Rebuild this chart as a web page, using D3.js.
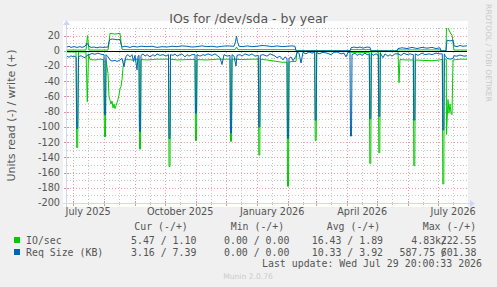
<!DOCTYPE html>
<html>
<head>
<meta charset="utf-8">
<script src="https://cdn.jsdelivr.net/npm/d3@7"></script>
<style>
body { margin: 0; background: #f0f0f0; }
svg { display: block; }
text { fill: #555; }
</style>
</head>
<body>
<script>
// graph window: 400 days ending at last update
const start = new Date(2025, 5, 24, 20, 0, 33)
const end = new Date(2026, 6, 29, 20, 0, 33)

// [day since start, value] ; reads are stored positive and drawn below zero
const ioWrite = [[0,1],[19,1],[20.5,20],[22,1],[41,1],[42,10],[43,23],[48,22],[53,23],[54,12],[55,2],[60,1.5],[100,1.5],[168,1.5],[169.5,5],[171,1.5],[229,1.5],[230,0],[283,0],[284,1.5],[303,1.5],[304,0],[330,0],[331,1.2],[373,1.2],[374,0],[379,0],[379.5,34],[384,22],[385,21],[387,1],[400,1]]
const ioRead = [[0,1.5],[9,1.5],[9.7,127],[10.7,127],[11.5,1.5],[19,1.5],[20.3,67],[21.5,4],[23,11.5],[28,12],[33,11],[36.5,11.5],[37.5,113],[38.5,113],[39,11.5],[41,30],[42,60],[43,65],[44,70],[45,66],[46,75],[47,70],[48,76],[49,72],[50,68],[51,64],[52,58],[53,50],[54,47],[55,38],[56,22],[57.5,12],[60,11.5],[66,12],[72,11.5],[72.5,129],[73.5,129],[74,11.5],[80,12],[90,11],[101.5,11],[102,152],[103,152],[103.5,11],[110,12],[120,11.5],[128,11.5],[128.5,118],[129.5,118],[130,11.5],[140,12],[150,11],[163,11],[163.5,119],[164.5,119],[165,11],[175,11.5],[185,11],[191.3,11],[191.8,137],[192.8,137],[193.3,11],[200,12],[210,14],[215,15],[220,15],[220.5,178],[221.5,178],[222,15],[225,14],[229,14],[230,1],[247.7,1],[248.2,118],[249.2,118],[249.7,1],[283,1],[284,2],[302.3,2],[302.8,148],[303.8,148],[304.3,1.5],[311.3,1],[311.8,134],[312.8,134],[313.3,1],[331,1],[332,42],[333,11.5],[340,12],[346.3,12],[346.8,151],[347.8,151],[348.3,12],[355,12.5],[365,13],[373,12],[375.3,11],[375.8,175],[376.8,175],[377.3,11],[379.3,11],[379.5,110],[381,64],[382,82],[383,70],[384,82],[385,84],[386,12],[393,11],[400,11]]
const reqWrite = [[0,5],[2,6],[4,4.5],[7,5.5],[10,4.5],[13,5.5],[15,4.5],[18,6],[20,10],[22,6],[24,4.5],[27,5],[30,4],[33,5],[36,4.5],[41,5],[42,12],[43,15],[46,15.5],[50,14.5],[53,15],[54,9],[55,5],[58,6],[60,5.5],[63,4.5],[66,6],[70,5],[74,6],[80,5.5],[85,6],[90,4.5],[95,5.5],[100,5],[105,6],[110,5.5],[115,6.5],[120,6],[125,5],[130,5.5],[135,6.5],[140,5.5],[145,6],[150,5],[155,6],[160,6.5],[167,6],[168.5,12],[169.5,19],[170.5,12],[172,6],[176,5.5],[180,6.5],[185,5.5],[190,6],[195,7],[200,6.5],[205,5.5],[210,6.5],[215,5.5],[220,6],[225,6.5],[228,6],[229,0],[283,0],[284,4],[287,5],[290,4],[293,5],[296,3.5],[300,5],[303,4.5],[304,0],[330,0],[331,3],[335,4],[340,3],[345,4.5],[350,3],[355,4.5],[360,3.5],[365,4.5],[369,3],[373,4],[374,0],[379,0],[380,14],[383,13],[386,14],[387,6.5],[390,5.5],[393,7],[396,6],[400,6.5]]
const reqRead = [[0,7],[2,8.5],[4,6.5],[6,8],[8,7],[9.2,9],[9.7,102],[10.7,102],[11.5,7.5],[14,6.5],[16,8],[18,9],[20,6],[22,5],[25,3.5],[28,4.5],[31,3],[34,4.5],[37,5],[37.5,84],[38.5,84],[39,5],[41,8],[43,12],[45,13.5],[48,12.5],[50,14],[53,12],[55,10],[57,21],[59,7],[61,5],[63,8],[65,5],[66.5,14],[68,6],[70,25],[71,7],[72,6],[72.5,106],[73.5,106],[74,6],[76,4],[78,7],[80,5],[83,8],[86,5],[88,7],[90,4],[93,6],[96,5],[99,7],[101.5,5],[102,115],[103,115],[103.5,5],[106,6],[108,4],[110,7],[113,5],[115,4],[118,8],[120,5],[122,7],[125,5],[128,5],[128.5,82],[129.5,82],[130,5],[133,7],[136,5],[138,6],[141,4],[145,6],[148,4],[150,6],[153,9],[155,18],[157,5],[160,7],[163,6],[163.5,108],[164.5,108],[165,5],[167,7],[169,20],[170,6],[173,5],[175,7],[178,4],[182,6],[185,4],[188,7],[191.3,6],[191.8,100],[192.8,100],[193.3,6],[196,5],[200,7],[203,4],[207,6],[210,9],[213,7],[216,12],[218,8],[220,10],[220.5,115],[221.5,115],[222,10],[224,8],[226,13],[229,7],[230,2],[232,3],[234,16],[236,2],[239,4],[242,1.5],[245,3],[247.7,2],[248.2,91],[249.2,91],[249.7,2],[252,4],[256,2],[260,3],[264,5],[267,2],[270,1.5],[274,4],[277,3],[279,8],[281,2],[283,2],[283.5,112],[284.5,112],[285,5],[288,3],[290,6],[293,4],[295,6],[298,3],[300,5],[302.3,5],[302.8,89],[303.8,89],[304.3,3],[306,6],[309,4],[311.3,5],[311.8,86],[312.8,86],[313.3,3],[316,9],[318,4],[321,7],[323,5],[325,7],[328,4],[331,4],[334,6],[337,3],[340,5],[343,4],[346.3,5],[346.8,91],[347.8,91],[348.3,4],[351,6],[355,3],[358,5],[362,4],[365,5],[369,3],[372,4],[375.3,4],[375.8,104],[376.8,104],[377.3,4],[378,6],[380,10],[383,11],[386,10],[387,6.5],[390,7],[393,5.5],[397,7],[400,6.5]]

const yTicks = [20, 0, -20, -40, -60, -80, -100, -120, -140, -160, -180, -200]
const yMinor = [30, 10, -10, -30, -50, -70, -90, -110, -130, -150, -170, -190]

const legendNames = ['IO/sec', 'Req Size (KB)']
const legendColors = ['#00cc00', '#0066b3']
const curText = ['5.47 / 1.10', '3.16 / 7.39']
const minText = ['0.00 / 0.00', '0.00 / 0.00']
const avgText = ['16.43 / 1.89', '10.33 / 3.92']
const maxRead = ['4.83k/', '587.75 /']
const maxWrite = ['222.55', '601.38']

const W = 497, H = 287
const L = 67, R = 467, T = 28, B = 203

const svg = d3.select('body').append('svg').attr('width', W).attr('height', H)

const x = d3.scaleTime().domain([start, end]).range([L, R])
const y = d3.scaleLinear().domain([-200, 30]).range([B, T])
const dayDate = d => new Date(+start + d * 864e5)

// canvas
svg.append('rect').attr('x', 63).attr('y', 21).attr('width', 405).attr('height', 186).attr('fill', '#fff')

// grid
const grid = svg.append('g').attr('shape-rendering', 'crispEdges')
const minorMonths = d3.timeMonth.range(d3.timeMonth.floor(start), end).map(m => d3.timeDay.offset(m, 15)).filter(d => d > start && d < end)
const majorMonths = d3.timeMonth.range(start, end)
const px = v => Math.round(v) + 0.5

grid.selectAll('.ymin').data(yMinor).enter().append('line')
    .attr('x1', L).attr('x2', R).attr('y1', d => px(y(d))).attr('y2', d => px(y(d)))
    .attr('stroke', '#c8c8c8').attr('stroke-dasharray', '1,2')
grid.selectAll('.xmin').data(minorMonths).enter().append('line')
    .attr('y1', T).attr('y2', B).attr('x1', d => px(x(d))).attr('x2', d => px(x(d)))
    .attr('stroke', '#c8c8c8').attr('stroke-dasharray', '1,2')
grid.selectAll('.ymaj').data(yTicks).enter().append('line')
    .attr('x1', L).attr('x2', R).attr('y1', d => px(y(d))).attr('y2', d => px(y(d)))
    .attr('stroke', '#eaa0a0').attr('stroke-dasharray', '1,2')
grid.selectAll('.xmaj').data(majorMonths).enter().append('line')
    .attr('y1', T).attr('y2', B).attr('x1', d => px(x(d))).attr('x2', d => px(x(d)))
    .attr('stroke', '#eaa0a0').attr('stroke-dasharray', '1,2')

// axis ticks
grid.selectAll('.xt').data(majorMonths).enter().append('line')
    .attr('y1', B - 2).attr('y2', B + 3).attr('x1', d => px(x(d))).attr('x2', d => px(x(d)))
    .attr('stroke', '#e89090')
grid.selectAll('.xmt').data(minorMonths).enter().append('line')
    .attr('y1', B - 1).attr('y2', B + 2).attr('x1', d => px(x(d))).attr('x2', d => px(x(d)))
    .attr('stroke', '#bbb')
grid.selectAll('.yt').data(yTicks).enter().append('line')
    .attr('x1', L - 3).attr('x2', L + 2).attr('y1', d => px(y(d))).attr('y2', d => px(y(d)))
    .attr('stroke', '#e89090')

// lines
svg.append('clipPath').attr('id', 'clip').append('rect').attr('x', L).attr('y', T).attr('width', R - L).attr('height', B - T)
const plot = svg.append('g').attr('clip-path', 'url(#clip)')

const lineUp = d3.line().x(d => x(dayDate(d[0]))).y(d => y(d[1]))
const lineDown = d3.line().x(d => x(dayDate(d[0]))).y(d => y(-d[1]))

plot.append('path').attr('d', lineDown(ioRead)).attr('fill', 'none').attr('stroke', legendColors[0]).attr('stroke-width', 1)
plot.append('path').attr('d', lineUp(ioWrite)).attr('fill', 'none').attr('stroke', legendColors[0]).attr('stroke-width', 1)
plot.append('path').attr('d', lineDown(reqRead)).attr('fill', 'none').attr('stroke', legendColors[1]).attr('stroke-width', 1)
plot.append('path').attr('d', lineUp(reqWrite)).attr('fill', 'none').attr('stroke', legendColors[1]).attr('stroke-width', 1)

plot.append('line').attr('x1', L).attr('x2', R).attr('y1', px(y(0))).attr('y2', px(y(0)))
    .attr('stroke', '#000').attr('shape-rendering', 'crispEdges')

// axes with arrows
const ax = svg.append('g').attr('shape-rendering', 'crispEdges')
ax.append('line').attr('x1', L - 4).attr('x2', R + 4).attr('y1', B + 0.5).attr('y2', B + 0.5).attr('stroke', '#cfd6f8')
ax.append('line').attr('x1', L - 0.5).attr('x2', L - 0.5).attr('y1', B + 4).attr('y2', T - 4).attr('stroke', '#cfd6f8')
svg.append('path').attr('d', `M${R + 3},${B - 3}L${R + 8},${B + 0.5}L${R + 3},${B + 4}Z`).attr('fill', '#cfd6f8')
svg.append('path').attr('d', `M${L - 4},${T - 3}L${L - 0.5},${T - 8}L${L + 3},${T - 3}Z`).attr('fill', '#cfd6f8')

// tick labels
svg.selectAll('.yl').data(yTicks).enter().append('text')
    .attr('x', 60).attr('y', d => y(d)).attr('dy', '0.35em').attr('text-anchor', 'end')
    .style('font', '9.7px "DejaVu Sans"').text(d => d)

svg.selectAll('.xl').data(d3.timeMonth.every(3).range(start, end)).enter().append('text')
    .attr('x', d => x(d3.timeDay.offset(d, 15))).attr('y', 215).attr('text-anchor', 'middle')
    .style('font', '9.7px "DejaVu Sans"').text(d3.timeFormat('%B %Y'))

// title and labels
svg.append('text').attr('x', 248.5).attr('y', 22.5).attr('text-anchor', 'middle')
    .style('font', '12.5px "DejaVu Sans"').text('IOs for /dev/sda - by year')
svg.append('text').attr('transform', `translate(15,${(T + B) / 2}) rotate(-90)`).attr('text-anchor', 'middle')
    .style('font', '11px "DejaVu Sans"').text('Units read (-) / write (+)')
svg.append('text').attr('transform', 'translate(486,53) rotate(90)').attr('text-anchor', 'middle')
    .style('font', '7.6px "DejaVu Sans"').style('fill', '#c8c8c8').text('RRDTOOL / TOBI OETIKER')

// legend
const lg = svg.append('g').style('font', '9.9px "DejaVu Sans Mono"').style('white-space', 'pre')
lg.append('text').attr('x', 134.3).attr('y', 229.5).text('Cur (-/+)')
lg.append('text').attr('x', 230.7).attr('y', 229.5).text('Min (-/+)')
lg.append('text').attr('x', 326.7).attr('y', 229.5).text('Avg (-/+)')
lg.append('text').attr('x', 422.7).attr('y', 229.5).text('Max (-/+)')

legendNames.forEach((n, i) => {
    const by = 243.5 + i * 12
    svg.append('rect').attr('x', 14).attr('y', by - 6.5).attr('width', 6).attr('height', 6).attr('fill', legendColors[i])
    lg.append('text').attr('x', 26).attr('y', by).text(n)
    lg.append('text').attr('x', 131).attr('y', by).text(curText[i])
    lg.append('text').attr('x', 224).attr('y', by).text(minText[i])
    lg.append('text').attr('x', 311.7).attr('y', by).text(avgText[i])
    // rrdtool prints the write value one char over the read value's slash
    const mx = lg.append('text').attr('y', by)
    mx.append('tspan').attr('x', 447).attr('text-anchor', 'end').text(maxRead[i])
    mx.append('tspan').attr('x', 440.7).attr('text-anchor', 'start').text(maxWrite[i])
})
lg.append('text').attr('x', 482).attr('y', 267).attr('text-anchor', 'end').text('Last update: Wed Jul 29 20:00:33 2026')

svg.append('text').attr('x', 248).attr('y', 279).attr('text-anchor', 'middle')
    .style('font', '7.6px "DejaVu Sans"').style('fill', '#cccccc').text('Munin 2.0.76')
</script>
</body>
</html>
